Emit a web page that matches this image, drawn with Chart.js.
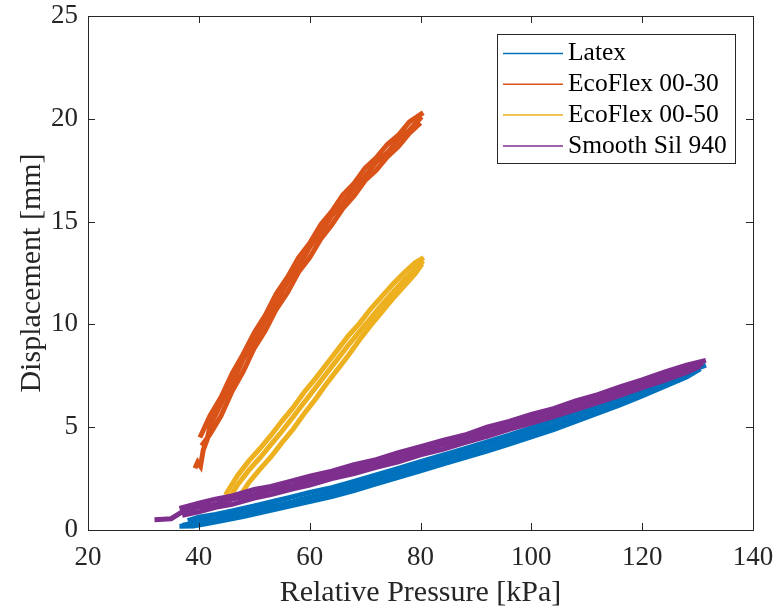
<!DOCTYPE html>
<html>
<head>
<meta charset="utf-8">
<script src="https://cdn.jsdelivr.net/npm/chart.js@4/dist/chart.umd.min.js"></script>
<style>
  html, body { margin: 0; padding: 0; background: #fff; }
  #wrap { width: 777px; height: 615px; }
</style>
</head>
<body>
<div id="wrap"><canvas id="myChart" width="777" height="615"></canvas></div>
<script>
// materials and colours (MATLAB default order)
const materials = ['Latex', 'EcoFlex 00-30', 'EcoFlex 00-50', 'Smooth Sil 940'];
const colors = ['#0072BD', '#D95319', '#EDB120', '#7E2F8E'];

const xTicks = [20, 40, 60, 80, 100, 120, 140];
const yTicks = [0, 5, 10, 15, 20, 25];

// Latex - three loading cycles (pressure kPa / displacement mm)
const latexP1 = [38, 40, 43, 46, 50, 53, 57, 60, 64, 68, 72, 76, 80, 84, 88, 92, 96, 100, 104, 108, 112, 116, 120, 124, 128, 131];
const latexD1 = [0.45, 0.62, 0.76, 0.93, 1.17, 1.36, 1.62, 1.83, 2.06, 2.36, 2.68, 3.0, 3.32, 3.64, 3.96, 4.28, 4.62, 4.97, 5.34, 5.72, 6.12, 6.53, 6.96, 7.4, 7.86, 8.14];
const latexP2 = [37, 40, 43, 46, 50, 53, 57, 60, 64, 68, 72, 76, 80, 84, 88, 92, 96, 100, 104, 108, 112, 116, 120, 124, 128, 131.5];
const latexD2 = [0.22, 0.4, 0.56, 0.74, 0.95, 1.14, 1.38, 1.6, 1.85, 2.13, 2.46, 2.78, 3.1, 3.43, 3.74, 4.07, 4.4, 4.75, 5.1, 5.5, 5.9, 6.31, 6.75, 7.2, 7.66, 8.02];
const latexP3 = [36.5, 39, 42, 45, 48, 52, 56, 60, 64, 68, 72, 76, 80, 84, 88, 92, 96, 100, 104, 108, 112, 116, 120, 124, 128, 130.5];
const latexD3 = [0.18, 0.2, 0.34, 0.5, 0.66, 0.9, 1.14, 1.38, 1.62, 1.92, 2.24, 2.56, 2.88, 3.2, 3.52, 3.84, 4.18, 4.53, 4.88, 5.28, 5.68, 6.09, 6.52, 6.98, 7.44, 7.84];

// EcoFlex 00-30
const eco30P1 = [40.2, 42, 44, 46, 48, 50, 52, 54, 56, 58, 60, 62, 64, 66, 68, 70, 72, 74, 76, 78, 80.5];
const eco30D1 = [4.5, 5.55, 6.45, 7.6, 8.55, 9.6, 10.45, 11.5, 12.3, 13.25, 13.95, 14.85, 15.5, 16.3, 16.85, 17.6, 18.1, 18.75, 19.2, 19.85, 20.3];
const eco30P2 = [39.3, 39.8, 40.3, 40.8, 41.5, 42, 44, 46, 48, 50, 52, 54, 56, 58, 60, 62, 64, 66, 68, 70, 72, 74, 76, 78, 80.2];
const eco30D2 = [3.0, 3.3, 3.1, 3.9, 4.4, 5.05, 6.15, 7.1, 8.3, 9.15, 10.2, 11.05, 12.05, 12.8, 13.75, 14.45, 15.3, 15.9, 16.65, 17.2, 17.9, 18.35, 19.0, 19.45, 20.1];
const eco30P3 = [40.5, 42, 44, 46, 48, 50, 52, 54, 56, 58, 60, 62, 64, 66, 68, 70, 72, 74, 76, 78, 80];
const eco30D3 = [4.1, 4.65, 5.55, 6.75, 7.7, 8.85, 9.7, 10.75, 11.55, 12.55, 13.25, 14.15, 14.85, 15.65, 16.25, 17.0, 17.5, 18.15, 18.65, 19.3, 19.8];

// EcoFlex 00-50
const eco50P1 = [44.8, 47, 49, 51, 53, 55, 57, 59, 61, 63, 65, 67, 69, 71, 73, 75, 77, 79, 80.6];
const eco50D1 = [1.7, 2.65, 3.35, 3.95, 4.6, 5.3, 5.95, 6.7, 7.35, 8.05, 8.75, 9.45, 10.05, 10.75, 11.35, 11.95, 12.5, 13.0, 13.25];
const eco50P2 = [45.5, 47, 49, 51, 53, 55, 57, 59, 61, 63, 65, 67, 69, 71, 73, 75, 77, 79, 80.5];
const eco50D2 = [1.55, 2.2, 2.9, 3.5, 4.15, 4.8, 5.5, 6.2, 6.9, 7.6, 8.3, 9.0, 9.65, 10.3, 10.95, 11.55, 12.15, 12.7, 13.1];
const eco50P3 = [47.4, 49, 51, 53, 55, 57, 59, 61, 63, 65, 67, 69, 71, 73, 75, 77, 79, 80.3];
const eco50D3 = [1.65, 2.3, 2.95, 3.55, 4.25, 4.9, 5.65, 6.35, 7.1, 7.8, 8.5, 9.25, 9.95, 10.6, 11.25, 11.85, 12.45, 12.95];

// Smooth Sil 940
const silP1 = [36.5, 40, 43, 46, 50, 53, 57, 60, 64, 68, 72, 76, 80, 84, 88, 92, 96, 100, 104, 108, 112, 116, 120, 124, 128, 131.5];
const silD1 = [1.05, 1.3, 1.5, 1.66, 1.97, 2.12, 2.4, 2.62, 2.86, 3.18, 3.42, 3.76, 4.05, 4.36, 4.62, 5.0, 5.28, 5.62, 5.9, 6.28, 6.58, 6.96, 7.3, 7.68, 8.02, 8.25];
const silP2 = [32, 35, 37, 40, 43, 46, 50, 53, 57, 60, 64, 68, 72, 76, 80, 84, 88, 92, 96, 100, 104, 108, 112, 116, 120, 124, 128, 131];
const silD2 = [0.5, 0.55, 0.88, 1.12, 1.26, 1.5, 1.73, 1.95, 2.17, 2.42, 2.66, 2.98, 3.22, 3.55, 3.83, 4.15, 4.42, 4.78, 5.06, 5.42, 5.7, 6.06, 6.36, 6.76, 7.08, 7.48, 7.82, 8.12];
const silP3 = [37, 40, 43, 46, 50, 53, 57, 60, 64, 68, 72, 76, 80, 84, 88, 92, 96, 100, 104, 108, 112, 116, 120, 124, 128, 130.5];
const silD3 = [0.72, 0.88, 1.1, 1.25, 1.55, 1.72, 2.0, 2.18, 2.5, 2.75, 3.05, 3.32, 3.66, 3.92, 4.25, 4.55, 4.9, 5.2, 5.52, 5.85, 6.2, 6.55, 6.92, 7.28, 7.66, 7.98];

const traces = [
    [0, latexP1, latexD1], [0, latexP2, latexD2], [0, latexP3, latexD3],
    [1, eco30P1, eco30D1], [1, eco30P2, eco30D2], [1, eco30P3, eco30D3],
    [2, eco50P1, eco50D1], [2, eco50P2, eco50D2], [2, eco50P3, eco50D3],
    [3, silP1, silD1], [3, silP2, silD2], [3, silP3, silD3]
];

const axisColor = '#262626';
const serif = '"Liberation Serif", "Times New Roman", serif';

// MATLAB style box with ticks pointing inwards, plus the boxed legend
const matlabAxes = {
    id: 'matlabAxes',
    afterDraw(chart) {
        const { ctx, chartArea: a, scales } = chart;
        ctx.save();
        ctx.strokeStyle = axisColor;
        ctx.lineWidth = 1;
        ctx.strokeRect(a.left + 0.5, a.top + 0.5, a.right - a.left, a.bottom - a.top);
        const tl = 7;
        ctx.beginPath();
        xTicks.forEach(v => {
            const px = Math.round(scales.x.getPixelForValue(v)) + 0.5;
            ctx.moveTo(px, a.bottom); ctx.lineTo(px, a.bottom - tl);
            ctx.moveTo(px, a.top); ctx.lineTo(px, a.top + tl);
        });
        yTicks.forEach(v => {
            const py = Math.round(scales.y.getPixelForValue(v)) + 0.5;
            ctx.moveTo(a.left, py); ctx.lineTo(a.left + tl, py);
            ctx.moveTo(a.right, py); ctx.lineTo(a.right - tl, py);
        });
        ctx.stroke();

        const bx = a.right - 256, by = a.top + 18, bw = 238, bh = 129;
        ctx.fillStyle = '#fff';
        ctx.fillRect(bx, by, bw, bh);
        ctx.strokeStyle = axisColor;
        ctx.strokeRect(bx + 0.5, by + 0.5, bw, bh);
        ctx.font = '25.5px ' + serif;
        ctx.textBaseline = 'middle';
        materials.forEach((m, i) => {
            const y = by + 19.5 + i * 30.8;
            ctx.strokeStyle = colors[i];
            ctx.lineWidth = 1.5;
            ctx.beginPath();
            ctx.moveTo(bx + 6, y); ctx.lineTo(bx + 66, y);
            ctx.stroke();
            ctx.fillStyle = '#000';
            ctx.fillText(m, bx + 71, y);
        });
        ctx.restore();
    }
};

new Chart(document.getElementById('myChart').getContext('2d'), {
    type: 'line',
    data: {
        datasets: traces.map(([m, p, d]) => ({
            label: materials[m],
            data: p.map((x, i) => ({ x: x, y: d[i] })),
            borderColor: colors[m],
            borderWidth: 5,
            pointRadius: 0,
            tension: 0,
            fill: false,
            order: 3 - m
        }))
    },
    options: {
        responsive: false,
        animation: false,
        layout: { padding: { top: 16, right: 24, left: 0, bottom: 0 } },
        plugins: {
            legend: { display: false },
            tooltip: { enabled: false }
        },
        scales: {
            x: {
                type: 'linear',
                min: 20, max: 140,
                afterFit: s => { s.height = 85; s.paddingLeft = 0; s.paddingRight = 0; },
                afterBuildTicks: s => { s.ticks = xTicks.map(v => ({ value: v })); },
                grid: { display: false, drawTicks: false },
                border: { display: false },
                ticks: { color: axisColor, padding: 12, maxRotation: 0, font: { family: serif, size: 27 } },
                title: { display: true, text: 'Relative Pressure [kPa]', color: axisColor,
                         padding: { top: 0, bottom: 4 }, font: { family: serif, size: 30, lineHeight: 1.2 } }
            },
            y: {
                type: 'linear',
                min: 0, max: 25,
                afterFit: s => { s.width = 88; s.paddingTop = 0; s.paddingBottom = 0; },
                afterBuildTicks: s => { s.ticks = yTicks.map(v => ({ value: v })); },
                grid: { display: false, drawTicks: false },
                border: { display: false },
                ticks: { color: axisColor, padding: 10, font: { family: serif, size: 27 } },
                title: { display: true, text: 'Displacement [mm]', color: axisColor,
                         padding: { top: 14, bottom: 0 }, font: { family: serif, size: 30, lineHeight: 1.2 } }
            }
        }
    },
    plugins: [matlabAxes]
});
</script>
</body>
</html>
